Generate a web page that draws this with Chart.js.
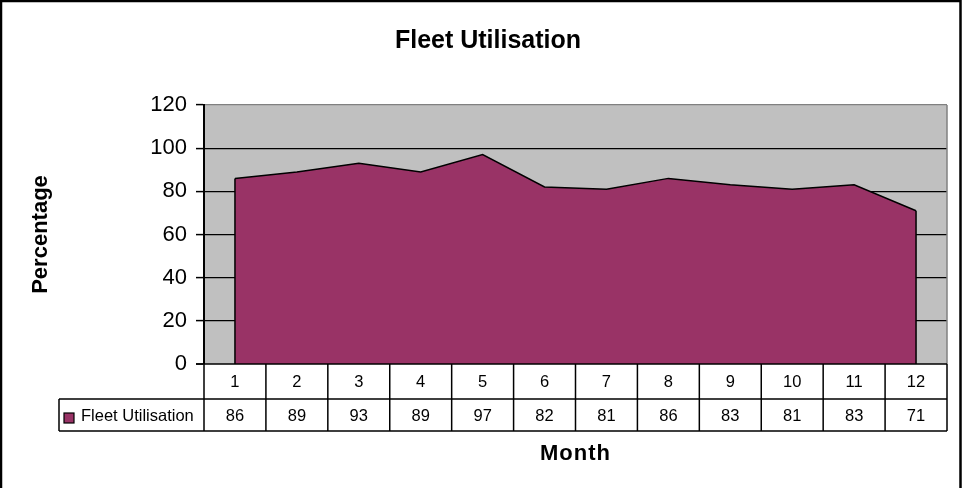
<!DOCTYPE html>
<html>
<head>
<meta charset="utf-8">
<script src="https://cdn.jsdelivr.net/npm/chart.js@4/dist/chart.umd.min.js"></script>
<style>
  html, body { margin: 0; padding: 0; background: #fff; }
  #wrap { width: 962px; height: 488px; position: relative; }
</style>
</head>
<body>
<div id="wrap"><canvas id="c" width="962" height="488"></canvas></div>
<script>
const chartTitle = "Fleet Utilisation";
const seriesName = "Fleet Utilisation";
const months = ["1", "2", "3", "4", "5", "6", "7", "8", "9", "10", "11", "12"];
const utilisation = [86, 89, 93, 89, 97, 82, 81, 86, 83, 81, 83, 71];
const yTicks = [0, 20, 40, 60, 80, 100, 120];
const yTitle = "Percentage";
const xTitle = "Month";

const FONT = "Arial, 'Liberation Sans', sans-serif";
const AREA_COLOR = "#993366";

const decor = {
  id: "decor",
  beforeDraw(chart) {
    const { ctx, chartArea: a } = chart;
    ctx.save();
    ctx.fillStyle = "#fff";
    ctx.fillRect(0, 0, chart.width, chart.height);
    ctx.fillStyle = "#C0C0C0";
    ctx.fillRect(a.left, a.top, a.right - a.left, a.bottom - a.top);
    ctx.restore();
  },
  afterDatasetsDraw(chart) {
    const { ctx, chartArea: a } = chart;
    const meta = chart.getDatasetMeta(0);
    const y0 = chart.scales.y.getPixelForValue(0);
    ctx.save();
    ctx.strokeStyle = "#000";
    ctx.lineWidth = 1.5;
    const first = meta.data[0], last = meta.data[meta.data.length - 1];
    ctx.beginPath();
    ctx.moveTo(first.x, first.y); ctx.lineTo(first.x, y0);
    ctx.moveTo(last.x, last.y); ctx.lineTo(last.x, y0);
    ctx.stroke();
    // right border of plot area
    ctx.strokeStyle = "#808080";
    ctx.lineWidth = 1.5;
    ctx.beginPath();
    ctx.moveTo(a.right, a.top); ctx.lineTo(a.right, y0);
    ctx.stroke();
    ctx.restore();
  },
  afterDraw(chart) {
    const { ctx, chartArea: a } = chart;
    const xs = chart.scales.x;
    const y0 = chart.scales.y.getPixelForValue(0);
    const n = months.length;
    const colW = (a.right - a.left) / n;
    const r1 = y0 + 35, r2 = r1 + 32;
    const legLeft = 59;
    ctx.save();
    // table lines
    ctx.strokeStyle = "#000";
    ctx.lineWidth = 1.5;
    ctx.beginPath();
    // axis base line
    ctx.moveTo(a.left - 8, y0); ctx.lineTo(a.right, y0);
    ctx.moveTo(legLeft, r1); ctx.lineTo(a.right, r1);
    ctx.moveTo(legLeft, r2); ctx.lineTo(a.right, r2);
    ctx.moveTo(legLeft, r1); ctx.lineTo(legLeft, r2);
    for (let i = 0; i <= n; i++) {
      const x = i < n ? xs.getPixelForValue(i) - colW / 2 : xs.getPixelForValue(n - 1) + colW / 2;
      ctx.moveTo(x, y0); ctx.lineTo(x, r2);
    }
    ctx.stroke();
    // texts
    ctx.fillStyle = "#000";
    ctx.font = "16.5px " + FONT;
    ctx.textAlign = "center";
    ctx.textBaseline = "middle";
    months.forEach((m, i) => {
      const x = xs.getPixelForValue(i);
      ctx.fillText(m, x, (y0 + r1) / 2 + 0.5);
      ctx.fillText(String(utilisation[i]), x, (r1 + r2) / 2 + 1);
    });
    // legend key
    ctx.fillStyle = AREA_COLOR;
    ctx.fillRect(64, 413, 10, 10);
    ctx.lineWidth = 1.2;
    ctx.strokeRect(64, 413, 10, 10);
    ctx.fillStyle = "#000";
    ctx.textAlign = "left";
    ctx.fillText(seriesName, 81, (r1 + r2) / 2 + 1);
    // x title
    ctx.font = "bold 22px " + FONT;
    ctx.textAlign = "center";
    ctx.textBaseline = "alphabetic";
    try { ctx.letterSpacing = "1px"; } catch (e) {}
    ctx.fillText(xTitle, (a.left + a.right) / 2, 460);
    try { ctx.letterSpacing = "0px"; } catch (e) {}
    // chart title
    ctx.font = "bold 25px " + FONT;
    ctx.fillText(chartTitle, 488, 48);
    // outer border
    ctx.lineWidth = 2.5;
    ctx.strokeRect(1, 1, 959.5, 520);
    ctx.restore();
  }
};

new Chart(document.getElementById("c"), {
  type: "line",
  data: {
    labels: months,
    datasets: [{
      label: seriesName,
      data: utilisation,
      fill: "origin",
      backgroundColor: AREA_COLOR,
      borderColor: "#000",
      borderWidth: 1.5,
      pointRadius: 0,
      pointHoverRadius: 0,
      tension: 0
    }]
  },
  options: {
    responsive: false,
    animation: false,
    devicePixelRatio: 1,
    layout: { padding: { top: 105, left: 0, right: 15, bottom: 0 } },
    plugins: {
      legend: { display: false },
      title: { display: false },
      tooltip: { enabled: false }
    },
    scales: {
      x: {
        type: "category",
        offset: true,
        grid: { display: false },
        border: { display: false },
        ticks: { display: false },
        afterFit(s) { s.height = 124; }
      },
      y: {
        min: 0,
        max: 120,
        afterBuildTicks(s) { s.ticks = yTicks.map(v => ({ value: v })); },
        grid: {
          color: ctx => (ctx.tick && ctx.tick.value === 120) ? "#808080" : "#000",
          lineWidth: ctx => (ctx.tick && ctx.tick.value === 0) ? 0 : 1.2,
          tickColor: "#000",
          tickLength: 8,
          tickWidth: 1.5,
          drawOnChartArea: true
        },
        border: { display: true, color: "#000", width: 2 },
        ticks: {
          color: "#000",
          padding: 9,
          font: { family: FONT, size: 22 }
        },
        title: {
          display: true,
          text: yTitle,
          color: "#000",
          font: { family: FONT, size: 22, weight: "bold" },
          padding: { top: 28, bottom: 0 }
        },
        afterFit(s) { s.width = 204; }
      }
    }
  },
  plugins: [decor]
});
</script>
</body>
</html>
